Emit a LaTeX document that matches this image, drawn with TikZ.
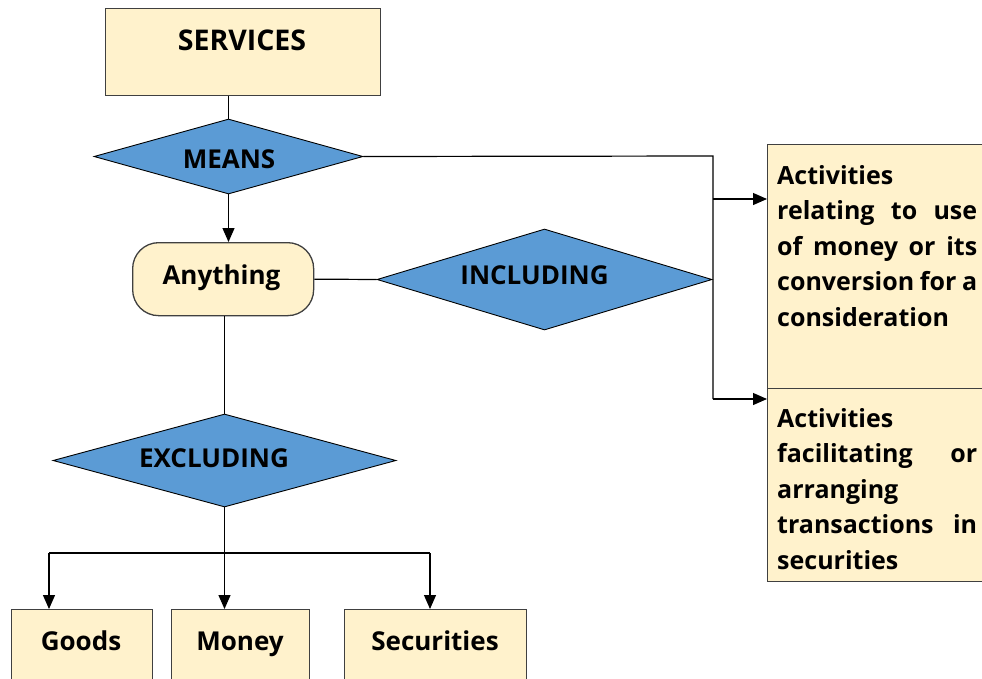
\documentclass[tikz,border=0pt]{standalone}
\usepackage{fontspec}
\setmainfont{Open Sans}
\usetikzlibrary{shapes.geometric,arrows.meta}
\definecolor{cream}{HTML}{FFF2CC}
\definecolor{dblue}{HTML}{5B9BD5}
\definecolor{bord}{HTML}{404040}
\begin{document}
\begin{tikzpicture}[x=1pt,y=-1pt,
  box/.style={rectangle, draw=bord, fill=cream, line width=1.3pt, inner sep=0pt, anchor=north west},
  dia/.style={shape=diamond, draw=black, fill=dblue, line width=0.9pt, inner sep=0pt},
  lbl/.style={font=\fontsize{26}{31}\selectfont\bfseries, inner sep=0pt, anchor=base},
  conn/.style={draw=black, line width=1.2pt},
  arr/.style={conn, -{Triangle[length=14pt,width=12pt]}}]
\clip (0,0) rectangle (982,678);
\fill[white] (0,0) rectangle (982,678);
% boxes
\node[box, minimum width=275pt, minimum height=87pt] (services) at (105,8) {};
\node[box, rounded corners=26pt, minimum width=181pt, minimum height=73pt] (anything) at (132,242) {};
\node[box, minimum width=260pt, minimum height=244pt] (box1) at (767,144) {};
\node[box, minimum width=260pt, minimum height=193pt] (box2) at (767,388) {};
\node[box, minimum width=141pt, minimum height=100pt] (goods) at (11,609) {};
\node[box, minimum width=138pt, minimum height=100pt] (money) at (171,609) {};
\node[box, minimum width=182pt, minimum height=100pt] (securities) at (344,609) {};
% diamonds
\node[dia, minimum width=269pt, minimum height=75pt] (means) at (228.5,156.5) {};
\node[dia, minimum width=335pt, minimum height=101pt] (including) at (544.5,279.5) {};
\node[dia, minimum width=343pt, minimum height=93pt] (excluding) at (224.5,460.5) {};
% labels
\node[lbl, font=\fontsize{28.5}{33}\selectfont\bfseries] (servicesT) at (242,50) {SERVICES};
\node[lbl] (meansT) at (229,168) {MEANS};
\node[lbl] (anythingT) at (221.5,284) {Anything};
\node[lbl] (includingT) at (534.5,284) {INCLUDING};
\node[lbl] (excludingT) at (214,467) {EXCLUDING};
\node[lbl] (goodsT) at (81,650) {Goods};
\node[lbl] (moneyT) at (240,650) {Money};
\node[lbl] (securitiesT) at (435,650) {Securities};
\node[anchor=base west, inner sep=0pt] (box1T) at (777,184) {\parbox[t]{200pt}{\fontsize{25}{35.5}\selectfont\bfseries
Activities\\
\makebox[200pt][s]{relating to use}\\
\makebox[200pt][s]{of money or its}\\
\makebox[200pt][s]{conversion for a}\\
consideration}};
\node[anchor=base west, inner sep=0pt] (box2T) at (777,427) {\parbox[t]{200pt}{\fontsize{25}{35.5}\selectfont\bfseries
Activities\\
\makebox[200pt][s]{facilitating or}\\
arranging\\
\makebox[200pt][s]{transactions in}\\
securities}};
% connector coordinates
\coordinate (vtop) at (713,156);
\coordinate (vbot) at (713,399);
\coordinate (b1in) at (767,199);
\coordinate (b2in) at (767,399);
\coordinate (hl) at (49,553);
\coordinate (hr) at (430,553);
% connectors
\draw[conn] (services.south -| means.north) -- (means.north);
\draw[arr] (means.south) -- (means.south |- anything.north);
\draw[conn] (means.east) -- (vtop) -- (vbot);
\draw[arr] (vtop |- b1in) -- (b1in);
\draw[arr] (vbot) -- (b2in);
\draw[conn] (anything.east) -- (including.west);
\draw[conn] (excluding.north |- anything.south) -- (excluding.north);
\draw[conn] (excluding.south) -- (excluding.south |- hl);
\draw[conn] (hl) -- (hr);
\draw[arr] (excluding.south |- hl) -- (excluding.south |- money.north);
\draw[arr] (hl) -- (hl |- goods.north);
\draw[arr] (hr) -- (hr |- securities.north);
\end{tikzpicture}
\end{document}
